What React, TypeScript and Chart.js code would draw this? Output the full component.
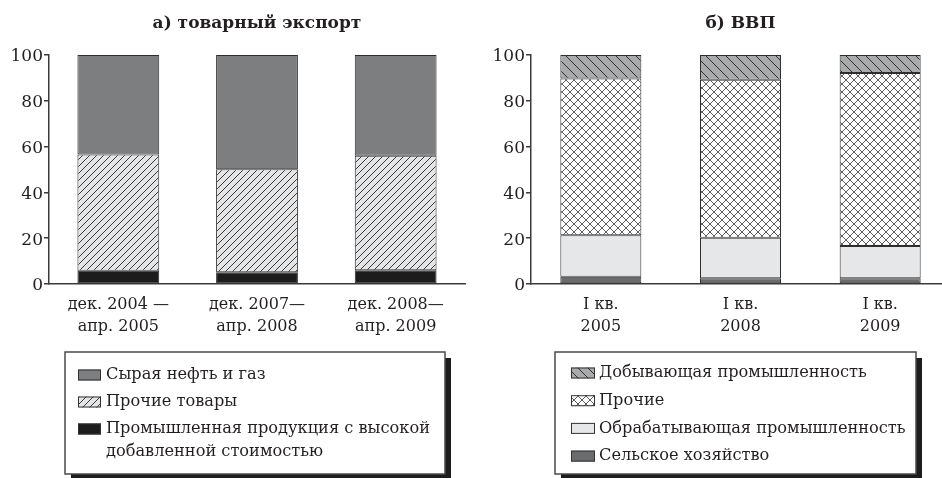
import React, { useEffect, useRef } from "react";
import { Chart, registerables } from "chart.js";

Chart.register(...registerables);

// ---- data: товарный экспорт ----
const exportCategories = [
  ["дек. 2004 —", "апр. 2005"],
  ["дек. 2007—", "апр. 2008"],
  ["дек. 2008—", "апр. 2009"],
];
const exportHighValue = [5.8, 5.1, 6.0];
const exportOtherGoods = [50.7, 45.0, 50.0];
const exportOilGas = [43.5, 49.9, 44.0];
const exportSeriesNames = [
  "Промышленная продукция с высокой\nдобавленной стоимостью",
  "Прочие товары",
  "Сырая нефть и газ",
];

// ---- data: ВВП ----
const gdpCategories = [
  ["I кв.", "2005"],
  ["I кв.", "2008"],
  ["I кв.", "2009"],
];
const gdpAgriculture = [3.2, 2.5, 2.5];
const gdpManufacturing = [18.1, 17.7, 14.1];
const gdpOther = [68.4, 69.0, 75.5];
const gdpMining = [10.3, 10.8, 7.9];
const gdpSeriesNames = [
  "Сельское хозяйство",
  "Обрабатывающая промышленность",
  "Прочие",
  "Добывающая промышленность",
];

const yTicks = [0, 20, 40, 60, 80, 100];

const FONT = "'DejaVu Serif', 'Liberation Serif', serif";
const INK = "#231f20";
const AXIS = "#3a3a3a";

function makePattern(bg: string, fg: string, size: number, kind: "/" | "\\" | "x", lw: number) {
  const c = document.createElement("canvas");
  c.width = size;
  c.height = size;
  const g = c.getContext("2d")!;
  g.fillStyle = bg;
  g.fillRect(0, 0, size, size);
  g.strokeStyle = fg;
  g.lineWidth = lw;
  g.beginPath();
  const fwd = () => {
    g.moveTo(0, size); g.lineTo(size, 0);
    g.moveTo(-1, 1); g.lineTo(1, -1);
    g.moveTo(size - 1, size + 1); g.lineTo(size + 1, size - 1);
  };
  const back = () => {
    g.moveTo(0, 0); g.lineTo(size, size);
    g.moveTo(size - 1, -1); g.lineTo(size + 1, 1);
    g.moveTo(-1, size - 1); g.lineTo(1, size + 1);
  };
  if (kind === "/") fwd();
  else if (kind === "\\") back();
  else { fwd(); back(); }
  g.stroke();
  return g.createPattern(c, "repeat")!;
}

const boxLegend = {
  id: "boxLegend",
  afterDraw(chart: any, _a: any, o: any) {
    if (!o || !o.w) return;
    const ctx = chart.ctx as CanvasRenderingContext2D;
    ctx.save();
    ctx.fillStyle = "#1d1d1d";
    ctx.fillRect(o.x + o.shadow, o.y + o.shadow, o.w, o.h);
    ctx.fillStyle = "#ffffff";
    ctx.fillRect(o.x, o.y, o.w, o.h);
    ctx.strokeStyle = "#4a4a4a";
    ctx.lineWidth = 1.5;
    ctx.strokeRect(o.x, o.y, o.w, o.h);
    let cy = o.y + o.rowStart;
    const items = chart.data.datasets.slice().reverse();
    ctx.font = o.font;
    ctx.textBaseline = "middle";
    ctx.textAlign = "left";
    for (const ds of items) {
      const lines = String(ds.label).split("\n");
      ctx.fillStyle = ds.backgroundColor;
      ctx.fillRect(o.swatchX, cy - o.swatchH / 2, o.swatchW, o.swatchH);
      ctx.strokeStyle = "#333";
      ctx.lineWidth = 1;
      ctx.strokeRect(o.swatchX + 0.5, cy - o.swatchH / 2 + 0.5, o.swatchW - 1, o.swatchH - 1);
      ctx.fillStyle = INK;
      lines.forEach((ln, i) => ctx.fillText(ln, o.textX, cy + i * o.lineGap));
      cy += (lines.length - 1) * o.lineGap + o.rowGap;
    }
    ctx.restore();
  },
};

function baseOptions(title: string, yWidth: number, padRight: number, barPct: number, legend: any) {
  return {
    responsive: false,
    animation: false as const,
    layout: { padding: { left: 0, right: padRight, top: 0, bottom: 134 } },
    datasets: { bar: { barPercentage: barPct, categoryPercentage: 1 } },
    plugins: {
      legend: { display: false },
      tooltip: { enabled: false },
      title: {
        display: true,
        text: title,
        fullSize: false,
        color: INK,
        font: { family: FONT, size: 17, weight: "bold" as const, lineHeight: 1.2 },
        padding: { top: 13, bottom: 21.6 },
      },
      boxLegend: legend,
    },
    scales: {
      x: {
        stacked: true,
        grid: { display: false, drawTicks: false },
        border: { display: true, color: AXIS, width: 1.5 },
        ticks: {
          color: INK,
          padding: 10,
          maxRotation: 0,
          autoSkip: false,
          font: { family: FONT, size: 16, lineHeight: 22 / 16 },
        },
        afterFit: (s: any) => { s.height = 60; },
      },
      y: {
        stacked: true,
        min: 0,
        max: 100,
        afterBuildTicks: (s: any) => { s.ticks = yTicks.map((v) => ({ value: v })); },
        grid: { drawOnChartArea: false, drawTicks: true, tickLength: 5, color: AXIS, lineWidth: 1.5 },
        border: { display: true, color: AXIS, width: 1.5 },
        ticks: {
          color: INK,
          padding: 1,
          labelOffset: 2,
          font: { family: FONT, size: 17 },
        },
        afterFit: (s: any) => { s.width = yWidth; },
      },
    },
  };
}

export default function App() {
  const leftRef = useRef<HTMLCanvasElement>(null);
  const rightRef = useRef<HTMLCanvasElement>(null);

  useEffect(() => {
    document.body.style.margin = "0";
    const hatchSlash = makePattern("#e4e5e6", "#3a3a3a", 7, "/", 1);
    const hatchBack = makePattern("#a9aaac", "#2f2f2f", 10, "\\", 1);
    const cross = makePattern("#ffffff", "#5e5e5e", 8, "x", 1);

    const border = { borderColor: "#2e2e2e", borderWidth: 1, borderSkipped: false as const };

    const left = new Chart(leftRef.current!, {
      type: "bar",
      data: {
        labels: exportCategories,
        datasets: [
          { label: exportSeriesNames[0], data: exportHighValue, backgroundColor: "#1c1c1c", ...border },
          { label: exportSeriesNames[1], data: exportOtherGoods, backgroundColor: hatchSlash as any, ...border },
          { label: exportSeriesNames[2], data: exportOilGas, backgroundColor: "#7d7e80", ...border },
        ],
      },
      options: baseOptions("а) товарный экспорт", 49, 5, 0.59, {
        x: 65, y: 352, w: 380, h: 122, shadow: 6,
        rowStart: 23, rowGap: 27, lineGap: 23,
        swatchX: 78, swatchW: 23, swatchH: 11, textX: 106,
        font: `16.2px ${FONT}`,
      }) as any,
      plugins: [boxLegend],
    });

    const right = new Chart(rightRef.current!, {
      type: "bar",
      data: {
        labels: gdpCategories,
        datasets: [
          { label: gdpSeriesNames[0], data: gdpAgriculture, backgroundColor: "#6b6c6e", ...border },
          { label: gdpSeriesNames[1], data: gdpManufacturing, backgroundColor: "#e6e7e8", ...border },
          { label: gdpSeriesNames[2], data: gdpOther, backgroundColor: cross as any, ...border },
          { label: gdpSeriesNames[3], data: gdpMining, backgroundColor: hatchBack as any, ...border },
        ],
      },
      options: baseOptions("б) ВВП", 61, 0, 0.58, {
        x: 85, y: 352, w: 361, h: 122, shadow: 6,
        rowStart: 21, rowGap: 27.7, lineGap: 23,
        swatchX: 101, swatchW: 24, swatchH: 11, textX: 129,
        font: `16.2px ${FONT}`,
      }) as any,
      plugins: [boxLegend],
    });

    return () => {
      left.destroy();
      right.destroy();
    };
  }, []);

  return (
    <div style={{ position: "relative", width: 942, height: 478, overflow: "hidden", background: "#fff" }}>
      <canvas ref={leftRef} width={470} height={478} style={{ position: "absolute", left: 0, top: 0 }} />
      <canvas ref={rightRef} width={480} height={478} style={{ position: "absolute", left: 470, top: 0 }} />
    </div>
  );
}
